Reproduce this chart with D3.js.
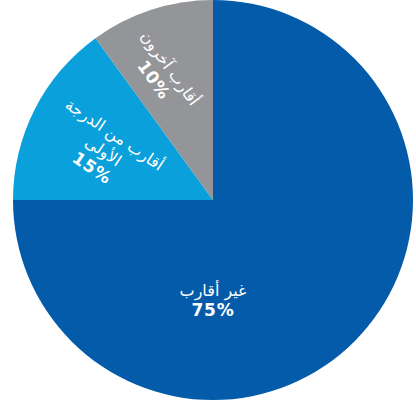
<!DOCTYPE html>
<html>
<head>
<meta charset="utf-8">
<script src="https://cdn.jsdelivr.net/npm/d3@7"></script>
<style>
  body { margin: 0; background: #fff; }
  text { fill: #fff; }
</style>
</head>
<body>
<div id="chart"></div>
<script>
var names = ["غير أقارب", "أقارب من الدرجة الأولى", "أقارب آخرون"];
var values = [75, 15, 10];
var colors = ["#035baa", "#0aa0db", "#939598"];

// label lines per slice (wrapped as in the picture)
var labelLines = [
  ["غير أقارب"],
  ["أقارب من الدرجة", "الأولى"],
  ["أقارب آخرون"]
];

// where each label sits: angle (deg), distance from centre, rotation
var labelPlace = [
  { angle: 180, r: 100, rot: 0 },
  { angle: 294, r: 120, rot: 34 },
  { angle: 338, r: 136, rot: 54 }
];

var svgWidth = 416;
var svgHeight = 407;
var radius = 200;
var cx = 213, cy = 200;

var svg = d3.select("#chart")
  .append("svg")
  .attr("width", svgWidth)
  .attr("height", svgHeight);

var chartGroup = svg.append("g")
  .attr("transform", `translate(${cx}, ${cy})`);

var pie = d3.pie().sort(null).value(d => d);
var arcs = pie(values);

var arc = d3.arc().innerRadius(0).outerRadius(radius);

chartGroup.selectAll("path")
  .data(arcs)
  .enter()
  .append("path")
  .attr("d", arc)
  .attr("fill", (d, i) => colors[i]);

var lineH = 20;

arcs.forEach(function(d, i) {
  var p = labelPlace[i];
  var a = p.angle * Math.PI / 180;
  var x = p.r * Math.sin(a);
  var y = -p.r * Math.cos(a);
  var lines = labelLines[i].slice();
  var n = lines.length + 1;
  var g = chartGroup.append("g")
    .attr("transform", `translate(${x}, ${y}) rotate(${p.rot})`);
  lines.forEach(function(t, j) {
    g.append("text")
      .attr("y", (j - (n - 1) / 2) * lineH)
      .attr("dy", "0.35em")
      .attr("text-anchor", "middle")
      .style("font-family", "'DejaVu Sans', sans-serif")
      .style("font-size", "16px")
      .text(t);
  });
  g.append("text")
    .attr("y", ((n - 1) - (n - 1) / 2) * lineH)
    .attr("dy", "0.35em")
    .attr("text-anchor", "middle")
    .style("font-family", "'DejaVu Sans', sans-serif")
    .style("font-weight", "bold")
    .style("font-size", "17px")
    .style("letter-spacing", "0.8px")
    .text(values[i] + "%");
});
</script>
</body>
</html>
